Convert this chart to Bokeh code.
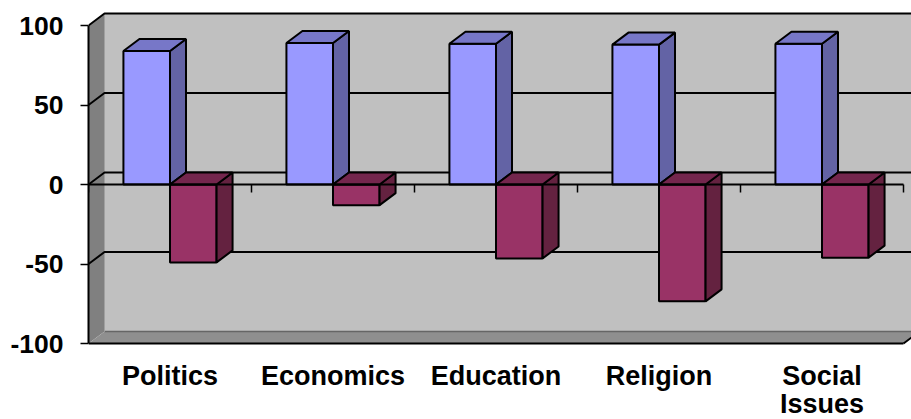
from bokeh.plotting import figure
from bokeh.models import LinearAxis, FixedTicker, Range1d
from bokeh.core.properties import value
from bokeh.embed import file_html
from bokeh.resources import INLINE

categories = ["Politics", "Economics", "Education", "Religion", "Social"]
categories_second_line = ["", "", "", "", "Issues"]
blue_values = [84, 89, 88.5, 88, 88.5]
red_values = [-49, -13, -46.5, -73.5, -46]
y_ticks = [-100, -50, 0, 50, 100]
y_labels = ["-100", "-50", "0", "50", "100"]

FONT = "Liberation Sans"
PX_X = 163
PX_Y = 1.59
DX = 16 / PX_X
DY = 12 / PX_Y
BAR = 1 / 3.5
N = len(categories)
XMAX = (911 - 88) / PX_X
YMAX = -100 + 343 / PX_Y
YMIN = -100 - 76 / PX_Y

p = figure(width=911, height=419, output_backend="svg", toolbar_location=None,
           x_range=Range1d(0, XMAX), y_range=Range1d(YMIN, YMAX),
           x_axis_type=None, y_axis_type=None,
           min_border_left=88, min_border_right=0, min_border_top=0, min_border_bottom=0,
           outline_line_color=None, background_fill_color="white", border_fill_color="white")
p.grid.visible = False

# walls
W = N + DX
p.patch([DX, W, W, DX], [-100 + DY, -100 + DY, 100 + DY, 100 + DY], fill_color="#C0C0C0", line_color=None)
p.patch([0, DX, DX, 0], [-100, -100 + DY, 100 + DY, 100], fill_color="#808080", line_color=None)
p.patch([0, N, W, DX], [-100, -100, -100 + DY, -100 + DY], fill_color="#8F8F8F", line_color=None)
p.line([DX, W], [-100 + DY, -100 + DY], line_color="#666666", line_width=1.5)
p.line([DX, DX], [-100 + DY, 100 + DY], line_color="#A0A0A0", line_width=1)
p.line([N, W], [-100, -100 + DY], line_color="#000000", line_width=2)

# grid lines on side and back wall
for t in y_ticks[1:]:
    p.line([0, DX, W], [t, t + DY, t + DY], line_color="#000000", line_width=2)

# bars
def prism(x1, x2, v, front, side, top):
    p.patch([x1, x2, x2, x1], [0, 0, v, v], fill_color=front, line_color="#000000", line_width=2)
    p.patch([x2, x2 + DX, x2 + DX, x2], [0, DY, v + DY, v], fill_color=side, line_color="#000000", line_width=2)
    level = max(v, 0)
    p.patch([x1, x1 + DX, x2 + DX, x2], [level, level + DY, level + DY, level],
            fill_color=top, line_color="#000000", line_width=2)

for i in range(N):
    mid = i + 0.5
    prism(mid - BAR, mid, blue_values[i], "#9999FF", "#6363A5", "#7777C8")
for i in range(N):
    mid = i + 0.5
    prism(mid, mid + BAR, red_values[i], "#993366", "#642240", "#74264D")

# value axis
ya = LinearAxis(ticker=FixedTicker(ticks=y_ticks), bounds=(-100, 100),
                major_label_overrides=dict(zip(y_ticks, y_labels)),
                major_label_text_font=FONT, major_label_text_font_style="bold",
                major_label_text_font_size="26.5px", major_label_text_color="#000000",
                major_label_standoff=17, major_tick_out=8, major_tick_in=0,
                minor_tick_line_color=None, axis_line_color="#000000", axis_line_width=2,
                major_tick_line_color="#000000", major_tick_line_width=1.5)
p.add_layout(ya, "left")

# category labels
positions = [i + 0.5 for i in range(N)]
row1 = -100 - 32 / PX_Y
row2 = -100 - 60 / PX_Y
p.text(x=positions, y=[row1] * N, text=categories, text_align="center", text_baseline="middle",
       text_font=value(FONT), text_font_style="bold", text_font_size="27px", text_color="#000000")
p.text(x=positions, y=[row2] * N, text=categories_second_line, text_align="center", text_baseline="middle",
       text_font=value(FONT), text_font_style="bold", text_font_size="27px", text_color="#000000")

# floor edge and zero line with its category ticks
for loc, ticks in ((-100, []), (0, list(range(N + 1)))):
    za = LinearAxis(ticker=FixedTicker(ticks=ticks), bounds=(0, N), fixed_location=loc,
                    major_label_text_font_size="0px", major_label_text_color=None,
                    major_tick_out=8, major_tick_in=0, minor_tick_line_color=None,
                    axis_line_color="#000000", axis_line_width=2,
                    major_tick_line_color="#000000", major_tick_line_width=1.5)
    p.add_layout(za, "below")

open("out.html", "w").write(file_html(p, INLINE))
